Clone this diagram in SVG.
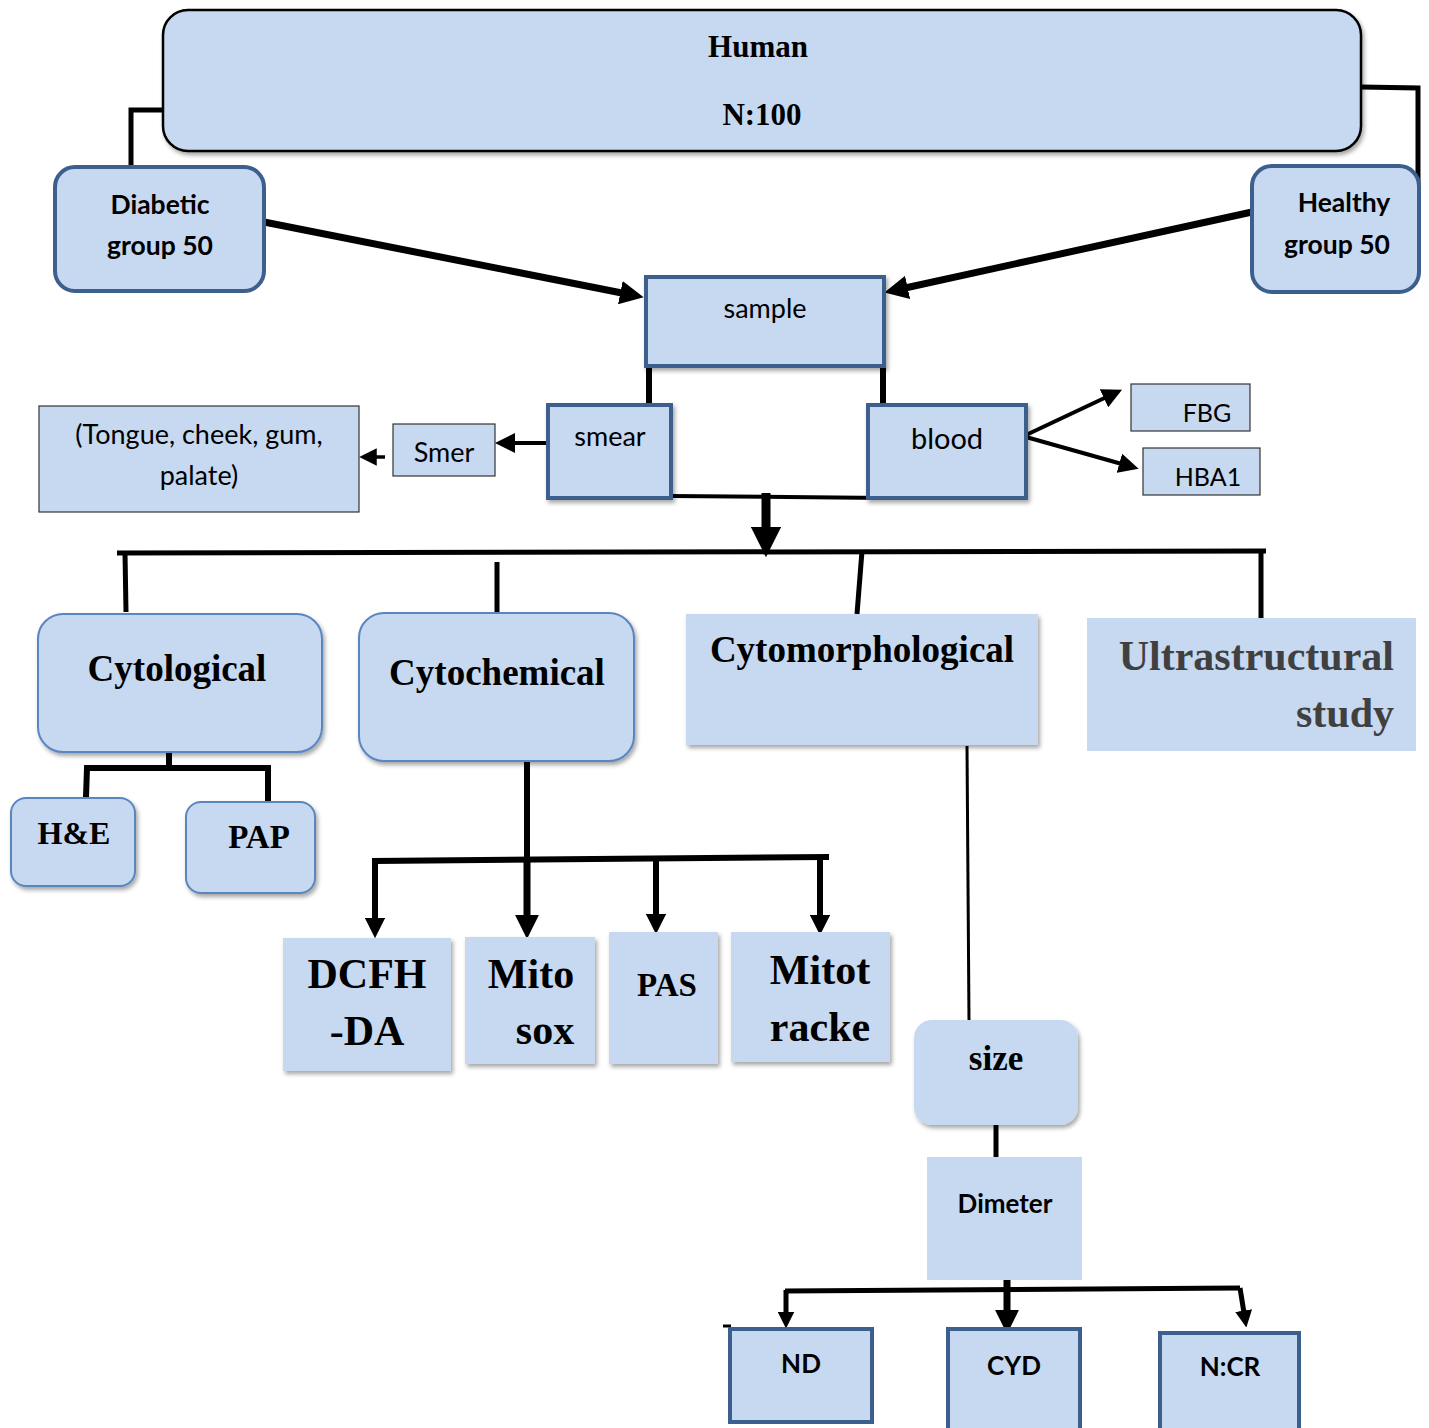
<svg xmlns="http://www.w3.org/2000/svg" width="1429" height="1428" viewBox="0 0 1429 1428">
<defs>
<style>
.box{fill:#c6d9f0}
.dk{stroke:#3d5f8e;stroke-width:4}
.lt{stroke:#5a86c0;stroke-width:2}
.bk{stroke:#000;stroke-width:2.5}
.th{stroke:#333;stroke-width:1.2}
.sh{filter:url(#shadow)}
.ln{fill:none;stroke:#000;stroke-linecap:butt;stroke-linejoin:miter}
.serif{font-family:"Liberation Serif","Times New Roman",serif;font-weight:bold;fill:#000}
.sans{font-family:"Lato","Open Sans","Liberation Sans",sans-serif;fill:#000}
.b{font-weight:bold}
text{text-anchor:middle}
</style>
<filter id="shadow" x="-10%" y="-10%" width="125%" height="130%">
<feDropShadow dx="2" dy="3" stdDeviation="2" flood-color="#000" flood-opacity="0.35"/>
</filter>
<marker id="ah" viewBox="0 0 10 10" refX="5" refY="5" markerWidth="3.4" markerHeight="3.4" orient="auto" markerUnits="strokeWidth">
<path d="M0,0 L10,5 L0,10 z" fill="#000"/>
</marker>
<marker id="ah2" viewBox="0 0 10 10" refX="5" refY="5" markerWidth="5" markerHeight="5" orient="auto" markerUnits="strokeWidth">
<path d="M0,0 L10,5 L0,10 z" fill="#000"/>
</marker>
</defs>
<rect width="1429" height="1428" fill="#fff"/>

<g id="connectors">
<polyline class="ln" points="163,110 131,110 131,167" stroke-width="5"/>
<polyline class="ln" points="1361,87 1418,88 1418,212" stroke-width="5"/>
<line class="ln" x1="264" y1="222" x2="632" y2="295" stroke-width="7" marker-end="url(#ah)"/>
<line class="ln" x1="1252" y1="212" x2="896" y2="290" stroke-width="7" marker-end="url(#ah)"/>
<line class="ln" x1="649" y1="366" x2="649" y2="405" stroke-width="6"/>
<line class="ln" x1="883" y1="352" x2="883" y2="405" stroke-width="6"/>
<line class="ln" x1="548" y1="443" x2="505" y2="443" stroke-width="4" marker-end="url(#ah2)"/>
<line class="ln" x1="385" y1="457" x2="368" y2="457" stroke-width="3.5" marker-end="url(#ah2)"/>
<line class="ln" x1="1026" y1="435" x2="1113" y2="394" stroke-width="4" marker-end="url(#ah2)"/>
<line class="ln" x1="1026" y1="437" x2="1129" y2="466" stroke-width="4" marker-end="url(#ah2)"/>
<line class="ln" x1="671" y1="496" x2="886" y2="498" stroke-width="4"/>
<line class="ln" x1="766" y1="493" x2="766" y2="542" stroke-width="9" marker-end="url(#ah)"/>
<line class="ln" x1="117" y1="553" x2="1266" y2="551" stroke-width="5"/>
<line class="ln" x1="125" y1="553" x2="126" y2="612" stroke-width="5"/>
<line class="ln" x1="497" y1="562" x2="497" y2="613" stroke-width="5"/>
<line class="ln" x1="862" y1="551" x2="857" y2="614" stroke-width="5"/>
<line class="ln" x1="1261" y1="551" x2="1261" y2="618" stroke-width="5"/>
<line class="ln" x1="169" y1="752" x2="169" y2="768" stroke-width="6"/>
<polyline class="ln" points="86,797 87,768 268,768 268,802" stroke-width="6"/>
<line class="ln" x1="527" y1="761" x2="527" y2="860" stroke-width="6"/>
<polyline class="ln" points="375,925 375,861 826,857 826,860" stroke-width="6"/>
<line class="ln" x1="375" y1="861" x2="375" y2="928" stroke-width="6" marker-end="url(#ah)"/>
<line class="ln" x1="527" y1="858" x2="527" y2="927" stroke-width="7" marker-end="url(#ah)"/>
<line class="ln" x1="656" y1="858" x2="656" y2="924" stroke-width="6" marker-end="url(#ah)"/>
<line class="ln" x1="820" y1="858" x2="820" y2="925" stroke-width="6" marker-end="url(#ah)"/>
<line class="ln" x1="967" y1="746" x2="969" y2="1021" stroke-width="3"/>
<line class="ln" x1="996" y1="1125" x2="996" y2="1157" stroke-width="5"/>
<line class="ln" x1="1007" y1="1280" x2="1007" y2="1322" stroke-width="7" marker-end="url(#ah)"/>
<line class="ln" x1="785" y1="1291" x2="1240" y2="1288" stroke-width="5"/>
<line class="ln" x1="786" y1="1290" x2="786" y2="1320" stroke-width="5" marker-end="url(#ah)"/>
<line class="ln" x1="1240" y1="1288" x2="1245" y2="1319" stroke-width="5" marker-end="url(#ah)"/>
<line class="ln" x1="723" y1="1326" x2="731" y2="1326" stroke-width="3"/>
</g>

<g id="human">
<rect class="box bk sh" x="163" y="10" width="1198" height="141" rx="25"/>
<text class="serif" x="758" y="57" font-size="31">Human</text>
<text class="serif" x="762" y="125" font-size="31">N:100</text>
</g>

<g id="diabetic">
<rect class="box dk" x="55" y="167" width="209" height="124" rx="20"/>
<text class="sans b" x="160" y="214" font-size="26.5">Diabetic</text>
<text class="sans b" x="160" y="255" font-size="26.5">group 50</text>
</g>

<g id="healthy">
<rect class="box dk" x="1252" y="166" width="167" height="126" rx="20"/>
<text class="sans b" x="1344" y="212" font-size="26.5">Healthy</text>
<text class="sans b" x="1337" y="254" font-size="26.5">group 50</text>
</g>

<g id="sample">
<rect class="box dk sh" x="646" y="277" width="238" height="89"/>
<text class="sans" x="765" y="318" font-size="27">sample</text>
</g>

<g id="smear">
<rect class="box dk sh" x="548" y="405" width="123" height="93"/>
<text class="sans" x="610" y="446" font-size="27">smear</text>
</g>

<g id="blood">
<rect class="box dk sh" x="868" y="405" width="158" height="93"/>
<text class="sans" x="947" y="449" font-size="29">blood</text>
</g>

<g id="smer">
<rect class="box th" x="393" y="424" width="102" height="52"/>
<text class="sans" x="444" y="462" font-size="27">Smer</text>
</g>

<g id="tongue">
<rect class="box th" x="39" y="406" width="320" height="106"/>
<text class="sans" x="199" y="444" font-size="27">(Tongue, cheek, gum,</text>
<text class="sans" x="199" y="485" font-size="27">palate)</text>
</g>

<g id="fbg">
<rect class="box th" x="1131" y="384" width="119" height="47"/>
<text class="sans" x="1207" y="422" font-size="25">FBG</text>
</g>

<g id="hba1">
<rect class="box th" x="1143" y="448" width="117" height="47"/>
<text class="sans" x="1208" y="486" font-size="25">HBA1</text>
</g>

<g id="cytological">
<rect class="box lt sh" x="38" y="614" width="284" height="138" rx="25"/>
<text class="serif" x="177" y="681" font-size="37">Cytological</text>
</g>

<g id="cytochemical">
<rect class="box lt sh" x="359" y="613" width="275" height="148" rx="25"/>
<text class="serif" x="497" y="685" font-size="37">Cytochemical</text>
</g>

<g id="cytomorphological">
<rect class="box sh" x="686" y="614" width="352" height="131"/>
<text class="serif" x="862" y="662" font-size="37">Cytomorphological</text>
</g>

<g id="ultrastructural">
<rect class="box" x="1087" y="618" width="329" height="133"/>
<text class="serif" x="1394" y="670" font-size="42" style="text-anchor:end;fill:#404040">Ultrastructural</text>
<text class="serif" x="1394" y="727" font-size="42" style="text-anchor:end;fill:#404040">study</text>
</g>

<g id="he">
<rect class="box lt sh" x="11" y="798" width="124" height="88" rx="15"/>
<text class="serif" x="74" y="844" font-size="32">H&amp;E</text>
</g>

<g id="pap">
<rect class="box lt sh" x="186" y="802" width="129" height="91" rx="15"/>
<text class="serif" x="259" y="848" font-size="33">PAP</text>
</g>

<g id="dcfh">
<rect class="box sh" x="283" y="938" width="168" height="133"/>
<text class="serif" x="367" y="988" font-size="42">DCFH</text>
<text class="serif" x="367" y="1045" font-size="42">-DA</text>
</g>

<g id="mitosox">
<rect class="box sh" x="465" y="937" width="130" height="127"/>
<text class="serif" x="531" y="988" font-size="42">Mito</text>
<text class="serif" x="545" y="1044" font-size="42">sox</text>
</g>

<g id="pas">
<rect class="box sh" x="609" y="932" width="109" height="132"/>
<text class="serif" x="667" y="996" font-size="33">PAS</text>
</g>

<g id="mitotracke">
<rect class="box sh" x="731" y="932" width="159" height="130"/>
<text class="serif" x="820" y="984" font-size="42">Mitot</text>
<text class="serif" x="820" y="1041" font-size="42">racke</text>
</g>

<g id="size">
<rect class="box sh" x="914" y="1020" width="164" height="105" rx="18"/>
<text class="serif" x="996" y="1070" font-size="35">size</text>
</g>

<g id="dimeter">
<rect class="box" x="927" y="1157" width="155" height="123"/>
<text class="sans b" x="1005" y="1213" font-size="26">Dimeter</text>
</g>

<g id="nd">
<rect class="box dk" x="730" y="1329" width="142" height="93"/>
<text class="sans b" x="801" y="1373" font-size="26">ND</text>
</g>

<g id="cyd">
<rect class="box dk" x="948" y="1329" width="132" height="104"/>
<text class="sans b" x="1014" y="1375" font-size="26">CYD</text>
</g>

<g id="ncr">
<rect class="box dk" x="1160" y="1333" width="139" height="100"/>
<text class="sans b" x="1230" y="1376" font-size="26">N:CR</text>
</g>
</svg>
